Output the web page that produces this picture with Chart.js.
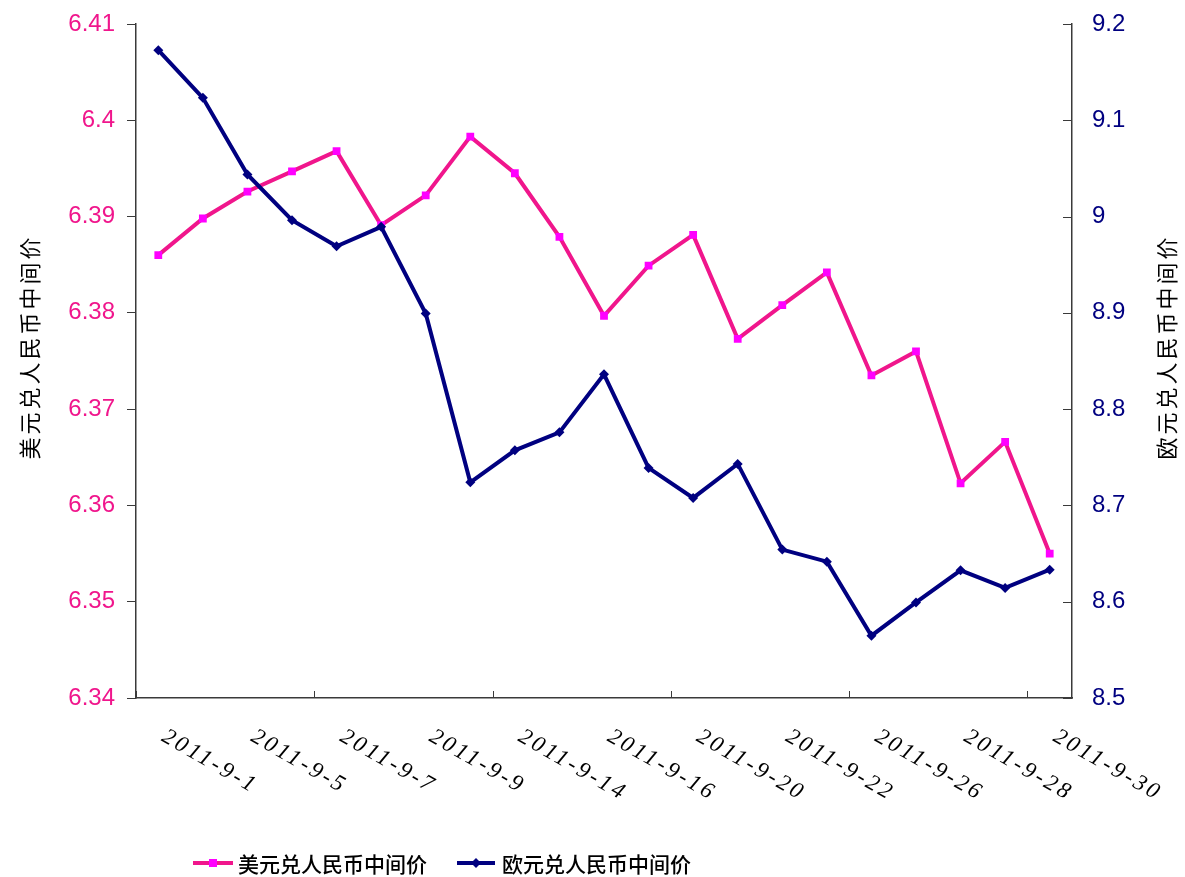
<!DOCTYPE html>
<html>
<head>
<meta charset="utf-8">
<script src="https://cdn.jsdelivr.net/npm/chart.js@4.4.1/dist/chart.umd.min.js"></script>
<style>
  html, body { margin: 0; padding: 0; background: #fff; }
  #chart { display: block; }
</style>
</head>
<body>
<canvas id="chart" width="1185" height="877"></canvas>
<script>
// 2011年9月 交易日
const dates = [
  "2011-9-1", "2011-9-2", "2011-9-5", "2011-9-6", "2011-9-7", "2011-9-8", "2011-9-9",
  "2011-9-13", "2011-9-14", "2011-9-15", "2011-9-16", "2011-9-19", "2011-9-20", "2011-9-21",
  "2011-9-22", "2011-9-23", "2011-9-26", "2011-9-27", "2011-9-28", "2011-9-29", "2011-9-30",
];

const usdCny = [
  6.3860, 6.3898, 6.3926, 6.3947, 6.3968, 6.3891, 6.3922,
  6.3983, 6.3945, 6.3879, 6.3797, 6.3849, 6.3881, 6.3773,
  6.3808, 6.3842, 6.3735, 6.3760, 6.3623, 6.3666, 6.3550,
];

const eurCny = [
  9.1728, 9.1233, 9.0437, 8.9962, 8.9692, 8.9893, 8.8993,
  8.7240, 8.7572, 8.7759, 8.8362, 8.7390, 8.7078, 8.7431,
  8.6541, 8.6416, 8.5647, 8.5993, 8.6326, 8.6143, 8.6333,
];

const seriesNames = ["美元兑人民币中间价", "欧元兑人民币中间价"];

const PINK = "#F0168C";
const MAGENTA = "#FF00FF";
const NAVY = "#000080";
const AXIS = "#3a3a3a";
const NUM_FONT = "'Liberation Sans', Arial, sans-serif";
const CJK_FONT = "'Noto Sans CJK SC', 'Noto Sans', sans-serif";

// 纵轴宽度固定，去掉首尾刻度标签带来的额外留白
const fixWidth = (w) => (s) => {
  s.width = w;
  s.paddingTop = 0;
  s.paddingBottom = 0;
};

// 坐标轴标题、斜排日期、内向刻度和图例
const extras = {
  id: "extras",
  afterDraw(chart) {
    const { ctx, scales } = chart;
    const x = scales.x, yR = scales.yR;
    ctx.save();

    // 右轴刻度线朝内
    ctx.strokeStyle = AXIS;
    ctx.lineWidth = 1;
    yR.ticks.forEach((t) => {
      const py = Math.round(yR.getPixelForValue(t.value)) + 0.5;
      ctx.beginPath();
      ctx.moveTo(yR.left - 9, py);
      ctx.lineTo(yR.left, py);
      ctx.stroke();
    });

    // 横轴刻度线朝内，每四个分类一个
    const step = (x.right - x.left) / dates.length;
    for (let k = 0; k <= dates.length; k += 4) {
      const px = Math.round(x.left + k * step) + 0.5;
      ctx.beginPath();
      ctx.moveTo(px, x.top - 7);
      ctx.lineTo(px, x.top);
      ctx.stroke();
    }

    // 日期标签，隔一个显示，顺时针斜 30°
    ctx.fillStyle = "#000";
    ctx.font = "italic 23px 'Liberation Serif', 'DejaVu Serif', serif";
    ctx.letterSpacing = "3px";
    ctx.textAlign = "left";
    ctx.textBaseline = "top";
    dates.forEach((d, i) => {
      if (i % 2) return;
      const px = x.getPixelForValue(i);
      ctx.save();
      ctx.translate(px + 11, x.top + 27);
      ctx.rotate(Math.PI / 6);
      ctx.fillText(d, 0, 0);
      ctx.restore();
    });

    // 纵轴标题
    ctx.font = "22px " + CJK_FONT;
    ctx.letterSpacing = "3px";
    ctx.textAlign = "center";
    ctx.textBaseline = "middle";
    [[30, seriesNames[0]], [1167, seriesNames[1]]].forEach(([tx, text]) => {
      ctx.save();
      ctx.translate(tx, 347);
      ctx.rotate(-Math.PI / 2);
      ctx.fillText(text, 0, 0);
      ctx.restore();
    });

    // 图例
    ctx.letterSpacing = "0px";
    ctx.font = "500 21px " + CJK_FONT;
    ctx.textAlign = "left";
    const ly = 863;
    const items = [
      { x0: 193, x1: 233, color: PINK, mark: MAGENTA, shape: "square", text: seriesNames[0], tx: 238 },
      { x0: 457, x1: 495, color: NAVY, mark: NAVY, shape: "diamond", text: seriesNames[1], tx: 502 },
    ];
    items.forEach((it) => {
      ctx.strokeStyle = it.color;
      ctx.lineWidth = 4;
      ctx.beginPath();
      ctx.moveTo(it.x0, ly);
      ctx.lineTo(it.x1, ly);
      ctx.stroke();
      const mx = (it.x0 + it.x1) / 2;
      ctx.fillStyle = it.mark;
      if (it.shape === "square") {
        ctx.fillRect(mx - 4, ly - 4, 8, 8);
      } else {
        ctx.beginPath();
        ctx.moveTo(mx, ly - 5);
        ctx.lineTo(mx + 5, ly);
        ctx.lineTo(mx, ly + 5);
        ctx.lineTo(mx - 5, ly);
        ctx.closePath();
        ctx.fill();
      }
      ctx.fillStyle = "#000";
      ctx.fillText(it.text, it.tx, ly + 1);
    });

    ctx.restore();
  },
};

new Chart(document.getElementById("chart"), {
  type: "line",
  data: {
    labels: dates,
    datasets: [
      {
        label: seriesNames[0],
        data: usdCny,
        yAxisID: "y",
        borderColor: PINK,
        borderWidth: 4,
        pointStyle: "rect",
        pointRadius: 5.5,
        pointBackgroundColor: MAGENTA,
        pointBorderColor: MAGENTA,
        pointBorderWidth: 0,
        tension: 0,
        order: 1,
      },
      {
        label: seriesNames[1],
        data: eurCny,
        yAxisID: "yR",
        borderColor: NAVY,
        borderWidth: 4,
        pointStyle: "rectRot",
        pointRadius: 5,
        pointBackgroundColor: NAVY,
        pointBorderColor: NAVY,
        pointBorderWidth: 0,
        tension: 0,
        order: 0,
      },
    ],
  },
  options: {
    responsive: false,
    animation: false,
    layout: { padding: { top: 24, left: 0, right: 0, bottom: 0 } },
    plugins: {
      legend: { display: false },
      tooltip: { enabled: false },
    },
    scales: {
      x: {
        type: "category",
        offset: true,
        grid: { display: false },
        border: { display: true, color: AXIS, width: 1.5 },
        ticks: { display: false },
        afterFit: (s) => { s.height = 179; },
      },
      y: {
        position: "left",
        min: 6.34,
        max: 6.41,
        grid: { display: true, drawOnChartArea: false, drawTicks: true, tickLength: 9, color: AXIS },
        border: { display: true, color: AXIS, width: 1.5 },
        ticks: {
          stepSize: 0.01,
          padding: 12,
          color: PINK,
          font: { family: NUM_FONT, size: 24 },
          callback: (v) => String(+Number(v).toFixed(2)),
        },
        afterFit: fixWidth(136),
      },
      yR: {
        position: "right",
        min: 8.5,
        max: 9.2,
        grid: { display: false, drawTicks: false },
        border: { display: true, color: AXIS, width: 1.5 },
        ticks: {
          stepSize: 0.1,
          padding: 20,
          color: NAVY,
          font: { family: NUM_FONT, size: 24 },
          callback: (v) => String(+Number(v).toFixed(1)),
        },
        afterFit: fixWidth(113),
      },
    },
  },
  plugins: [extras],
});
</script>
</body>
</html>
